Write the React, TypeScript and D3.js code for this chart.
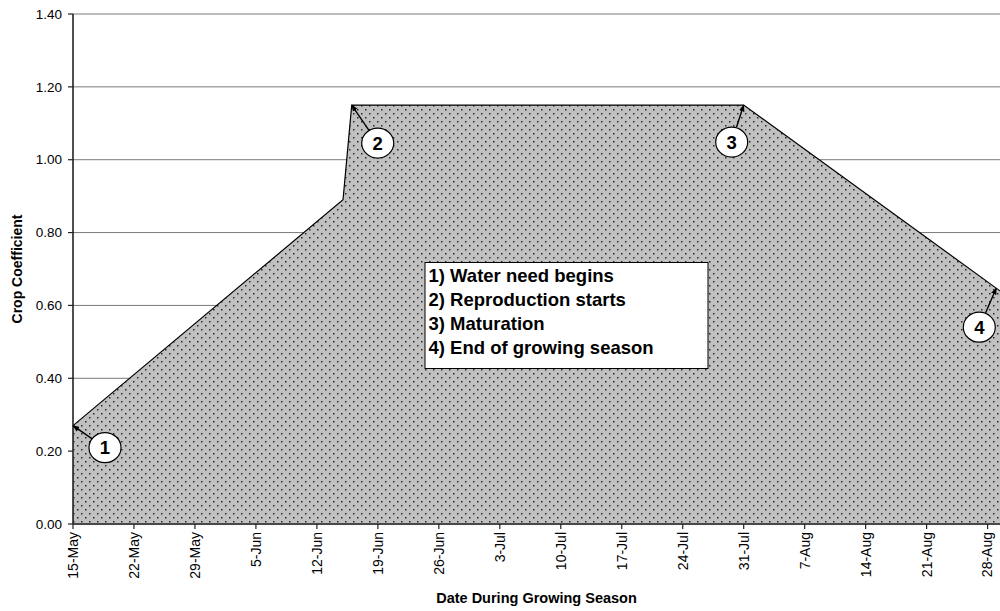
import React from 'react';
import * as d3 from 'd3';

// crop coefficient curve over the season
const seasonDates = ['15-May', '15-Jun', '16-Jun', '31-Jul', '30-Aug'];
const cropCoefficient = [0.27, 0.89, 1.15, 1.15, 0.63];

const xTickLabels = [
  '15-May', '22-May', '29-May', '5-Jun', '12-Jun', '19-Jun', '26-Jun', '3-Jul',
  '10-Jul', '17-Jul', '24-Jul', '31-Jul', '7-Aug', '14-Aug', '21-Aug', '28-Aug',
];
const yTicks = [0, 0.2, 0.4, 0.6, 0.8, 1.0, 1.2, 1.4];

const legendLines = [
  '1) Water need begins',
  '2) Reproduction starts',
  '3) Maturation',
  '4) End of growing season',
];

// callouts: label, date it points at, and circle offset (px) from that point
const calloutLabels = ['1', '2', '3', '4'];
const calloutDates = ['15-May', '16-Jun', '31-Jul', '29-Aug'];
const calloutOffsets: [number, number][] = [[32, 22], [26, 38], [-12, 37], [-17, 39]];

const parse = d3.timeParse('%d-%b-%Y');
const toDate = (s: string) => parse(`${s}-2007`) as Date;

const width = 1000;
const height = 611;
const margin = { top: 14, right: -5, bottom: 87, left: 73 };
const font = "Arial, 'Liberation Sans', sans-serif";

export default function App() {
  const data = seasonDates.map((d, i) => ({ date: toDate(d), value: cropCoefficient[i] }));

  const x = d3.scaleTime()
    .domain([data[0].date, data[data.length - 1].date])
    .range([margin.left, width - margin.right]);

  const y = d3.scaleLinear()
    .domain([0, 1.4])
    .range([height - margin.bottom, margin.top]);

  const area = d3.area<{ date: Date; value: number }>()
    .x(d => x(d.date))
    .y0(y(0))
    .y1(d => y(d.value));

  const line = d3.line<{ date: Date; value: number }>()
    .x(d => x(d.date))
    .y(d => y(d.value));

  // value on the curve for any date (straight segments between points)
  const valueAt = (dt: Date) => {
    for (let i = 1; i < data.length; i++) {
      if (dt <= data[i].date) {
        const a = data[i - 1], b = data[i];
        const t = (+dt - +a.date) / (+b.date - +a.date);
        return a.value + t * (b.value - a.value);
      }
    }
    return data[data.length - 1].value;
  };

  const r = 15.5;
  const callouts = calloutLabels.map((lab, i) => {
    const dt = toDate(calloutDates[i]);
    const tx = x(dt);
    const ty = y(valueAt(dt));
    const cx = tx + calloutOffsets[i][0];
    const cy = ty + calloutOffsets[i][1];
    const ang = Math.atan2(ty - cy, tx - cx);
    return { lab, tx, ty, cx, cy, sx: cx + r * Math.cos(ang), sy: cy + r * Math.sin(ang) };
  });

  const x0 = margin.left;
  const plotRight = width;
  const yBase = y(0);

  return (
    <svg width={width} height={height} style={{ position: 'absolute', left: 0, top: 0, background: '#fff' }}>
      <defs>
        <pattern id="dots" width={8} height={8} patternUnits="userSpaceOnUse">
          <rect width={8} height={8} fill="#c0c0c0" />
          <rect x={1} y={1} width={1.5} height={1.5} fill="#2a2a2a" />
          <rect x={5} y={5} width={1.5} height={1.5} fill="#2a2a2a" />
        </pattern>
        <marker id="arrow" viewBox="0 0 10 10" refX={9} refY={5} markerWidth={7} markerHeight={7} orient="auto" markerUnits="userSpaceOnUse">
          <path d="M0,1 L10,5 L0,9 z" fill="#000" />
        </marker>
      </defs>

      {/* gridlines */}
      {yTicks.map(t => (
        <line key={t} x1={x0} x2={plotRight} y1={y(t)} y2={y(t)} stroke="#7a7a7a" strokeWidth={1} />
      ))}

      {/* shaded area */}
      <path d={area(data) ?? ''} fill="url(#dots)" />
      <path d={line(data) ?? ''} fill="none" stroke="#000" strokeWidth={1.2} />

      {/* axes */}
      <line x1={x0} x2={x0} y1={y(1.4)} y2={yBase} stroke="#222" strokeWidth={1.6} />
      <line x1={x0} x2={plotRight} y1={yBase} y2={yBase} stroke="#222" strokeWidth={1.6} />
      {yTicks.map(t => (
        <g key={t}>
          <line x1={x0 - 5} x2={x0} y1={y(t)} y2={y(t)} stroke="#222" strokeWidth={1.2} />
          <text x={x0 - 11} y={y(t)} dy="0.35em" textAnchor="end" fontFamily={font} fontSize={13.5} fill="#000">
            {t.toFixed(2)}
          </text>
        </g>
      ))}
      {xTickLabels.map(lab => {
        const px = x(toDate(lab));
        return (
          <g key={lab}>
            <line x1={px} x2={px} y1={yBase} y2={yBase + 5} stroke="#222" strokeWidth={1.2} />
            <text transform={`translate(${px},${yBase + 8}) rotate(-90)`} dy="0.35em" textAnchor="end"
              fontFamily={font} fontSize={14} fill="#000">
              {lab}
            </text>
          </g>
        );
      })}

      <text transform={`translate(22,${(y(1.4) + yBase) / 2}) rotate(-90)`} textAnchor="middle"
        fontFamily={font} fontSize={14} fontWeight="bold">Crop Coefficient</text>
      <text x={(x0 + plotRight) / 2} y={603} textAnchor="middle"
        fontFamily={font} fontSize={14.5} fontWeight="bold">Date During Growing Season</text>

      {/* legend box */}
      <rect x={425} y={262.5} width={283} height={106} fill="#fff" stroke="#000" strokeWidth={1} />
      {legendLines.map((t, i) => (
        <text key={t} x={428.5} y={282 + i * 24} fontFamily={font} fontSize={18.5} fontWeight="bold">{t}</text>
      ))}

      {/* callouts */}
      {callouts.map(c => (
        <g key={c.lab}>
          <line x1={c.sx} y1={c.sy} x2={c.tx} y2={c.ty} stroke="#000" strokeWidth={1.4} markerEnd="url(#arrow)" />
          <ellipse cx={c.cx} cy={c.cy} rx={r + 0.5} ry={r - 0.5} fill="#fff" stroke="#000" strokeWidth={1.2} />
          <text x={c.cx} y={c.cy} dy="0.36em" textAnchor="middle" fontFamily={font} fontSize={18.5} fontWeight="bold">{c.lab}</text>
        </g>
      ))}
    </svg>
  );
}
